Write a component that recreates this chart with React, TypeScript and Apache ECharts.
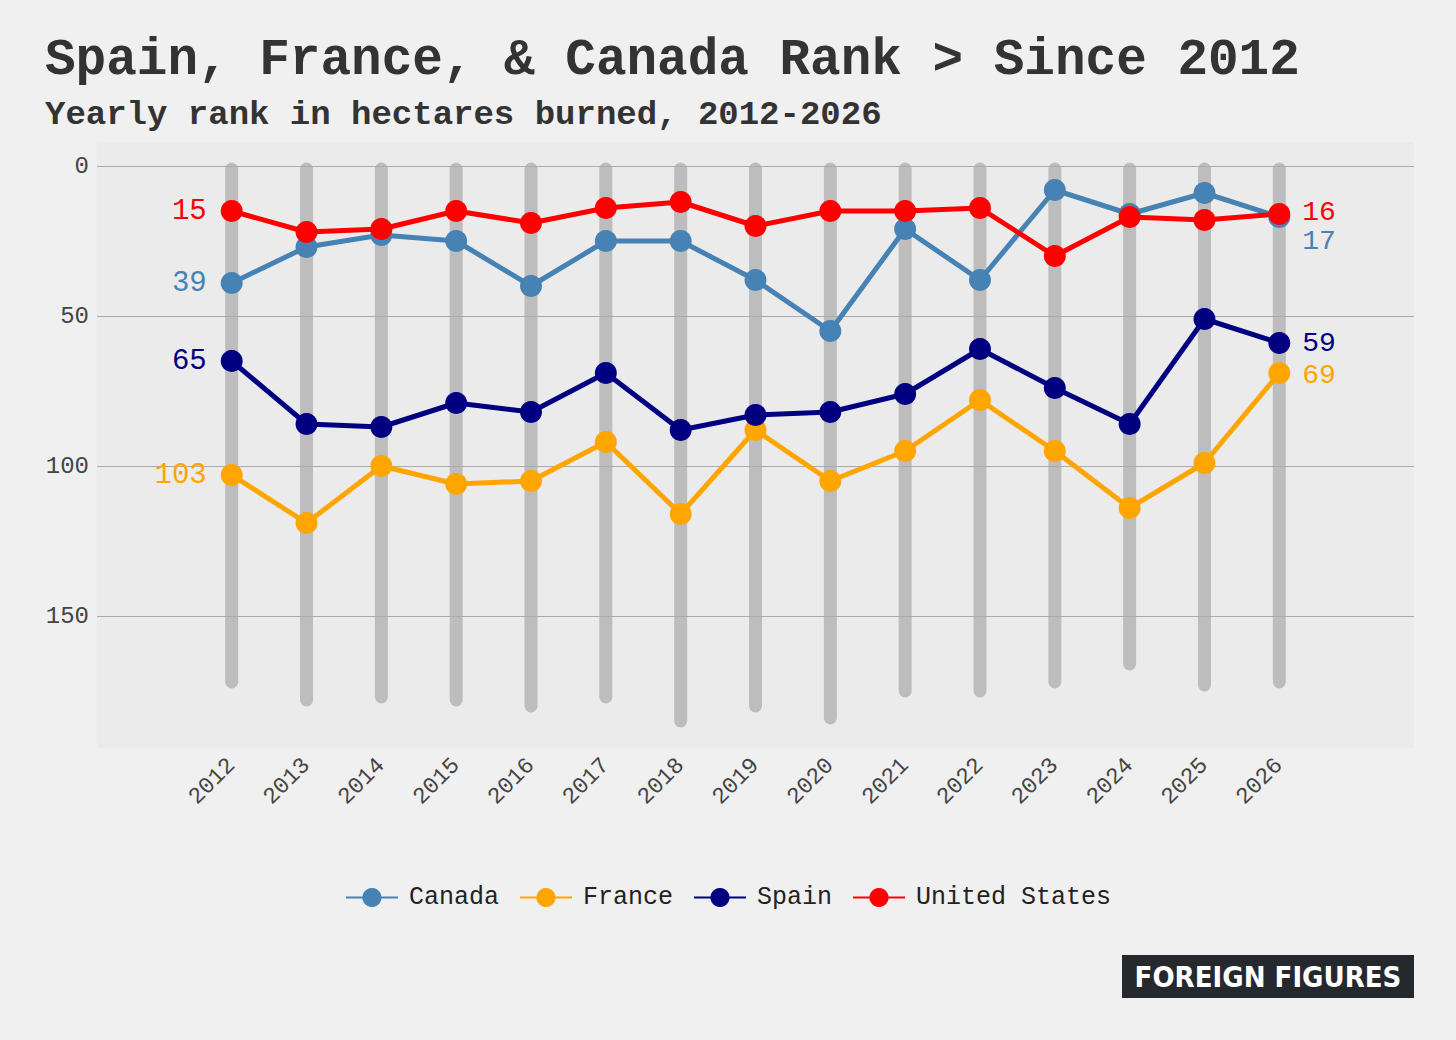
import React, { useEffect, useRef } from "react";
import * as echarts from "echarts";

const years = [2012, 2013, 2014, 2015, 2016, 2017, 2018, 2019, 2020, 2021, 2022, 2023, 2024, 2025, 2026];
const canada = [39, 27, 23, 25, 40, 25, 25, 38, 55, 21, 38, 8, 16, 9, 17];
const france = [103, 119, 100, 106, 105, 92, 116, 88, 105, 95, 78, 95, 114, 99, 69];
const spain = [65, 86, 87, 79, 82, 69, 88, 83, 82, 76, 61, 74, 86, 51, 59];
const unitedStates = [15, 22, 21, 15, 19, 14, 12, 20, 15, 15, 14, 30, 17, 18, 16];
// number of ranked countries each year (bottom of the grey bars)
const countryCount = [172, 178, 177, 178, 180, 177, 185, 180, 184, 175, 175, 172, 166, 173, 172];
const gridValues = [0, 50, 100, 150];

const FONT = "'Liberation Mono', 'Courier New', monospace";

const App: React.FC = () => {
  const chartRef = useRef<HTMLDivElement>(null);

  useEffect(() => {
    document.body.style.margin = "0";
    document.body.style.background = "#f0f0f0";
    if (!chartRef.current) return;
    const chart = echarts.init(chartRef.current, undefined, { renderer: "svg" });

    const makeSeries = (name: string, values: number[], color: string, endOffset: number[]) => ({
      name,
      type: "line",
      z: 5,
      data: values.map((v, i) => {
        const point: any = { value: [years[i], v] };
        if (i === 0) {
          point.label = { show: true, position: "left", distance: 14, formatter: String(v), color, fontSize: 29, fontFamily: FONT };
        } else if (i === values.length - 1) {
          point.label = { show: true, position: "right", distance: 12, offset: endOffset, formatter: String(v), color, fontSize: 28, fontFamily: FONT };
        }
        return point;
      }),
      lineStyle: { color, width: 5 },
      itemStyle: { color },
      symbol: "circle",
      symbolSize: 22,
    });

    chart.setOption({
      animation: false,
      backgroundColor: "#f0f0f0",
      title: [
        {
          text: "Spain, France, & Canada Rank > Since 2012",
          left: 40,
          top: 30,
          textStyle: { fontFamily: FONT, fontSize: 51, fontWeight: "bold", color: "#333" },
        },
        {
          text: "Yearly rank in hectares burned, 2012-2026",
          left: 40,
          top: 93,
          textStyle: { fontFamily: FONT, fontSize: 34, fontWeight: "bold", color: "#333" },
        },
      ],
      grid: {
        left: 97,
        right: 42,
        top: 142,
        bottom: 292,
        show: true,
        backgroundColor: "#ebebeb",
        borderWidth: 0,
      },
      legend: {
        top: 880,
        left: "center",
        itemWidth: 52,
        itemHeight: 24,
        itemGap: 20,
        textStyle: { fontFamily: FONT, fontSize: 25, color: "#222", padding: [0, 0, 0, 6] },
        data: ["Canada", "France", "Spain", "United States"],
      },
      xAxis: {
        type: "value",
        min: 2010.2,
        max: 2027.8,
        splitLine: { show: false },
        axisLine: { show: false },
        axisTick: { show: false },
        axisLabel: {
          customValues: years,
          rotate: 45,
          fontFamily: FONT,
          fontSize: 23,
          color: "#444",
          margin: 14,
          formatter: (v: number) => String(v),
        },
      },
      yAxis: {
        type: "value",
        inverse: true,
        min: -8,
        max: 194,
        splitLine: { show: false },
        axisLine: { show: false },
        axisTick: { show: false },
        axisLabel: {
          customValues: gridValues,
          fontFamily: FONT,
          fontSize: 24,
          color: "#444",
          margin: 8,
        },
      },
      graphic: [
        {
          type: "rect",
          x: 1122,
          y: 955,
          shape: { width: 292, height: 43 },
          style: { fill: "#25282d" },
        },
        {
          type: "text",
          x: 1268,
          y: 977,
          style: {
            text: "FOREIGN FIGURES",
            fill: "#ffffff",
            align: "center",
            verticalAlign: "middle",
            font: "bold 29px 'DejaVu Sans Condensed', 'Liberation Sans Narrow', sans-serif",
          },
        },
      ],
      series: [
        {
          name: "ranks",
          type: "custom",
          z: 1,
          silent: true,
          data: years.map((y, i) => [y, countryCount[i]]),
          renderItem: (params: any, api: any) => {
            const top = api.coord([api.value(0), 1]);
            const bottom = api.coord([api.value(0), api.value(1)]);
            return {
              type: "line",
              shape: { x1: top[0], y1: top[1], x2: bottom[0], y2: bottom[1] },
              style: { stroke: "#bdbdbd", lineWidth: 13, lineCap: "round" },
            };
          },
        },
        {
          name: "grid",
          type: "line",
          data: [],
          z: 0,
          markLine: {
            silent: true,
            symbol: "none",
            label: { show: false },
            lineStyle: { color: "#aaa", width: 1, type: "solid" },
            data: gridValues.map((v) => ({ yAxis: v })),
          },
        },
        makeSeries("Canada", canada, "#4682b4", [0, 24]),
        makeSeries("France", france, "#ffa500", [0, 2]),
        makeSeries("Spain", spain, "#000080", [0, 0]),
        makeSeries("United States", unitedStates, "#ff0000", [0, -2]),
      ],
    });

    return () => {
      chart.dispose();
    };
  }, []);

  return <div ref={chartRef} style={{ width: 1456, height: 1040 }} />;
};

export default App;
